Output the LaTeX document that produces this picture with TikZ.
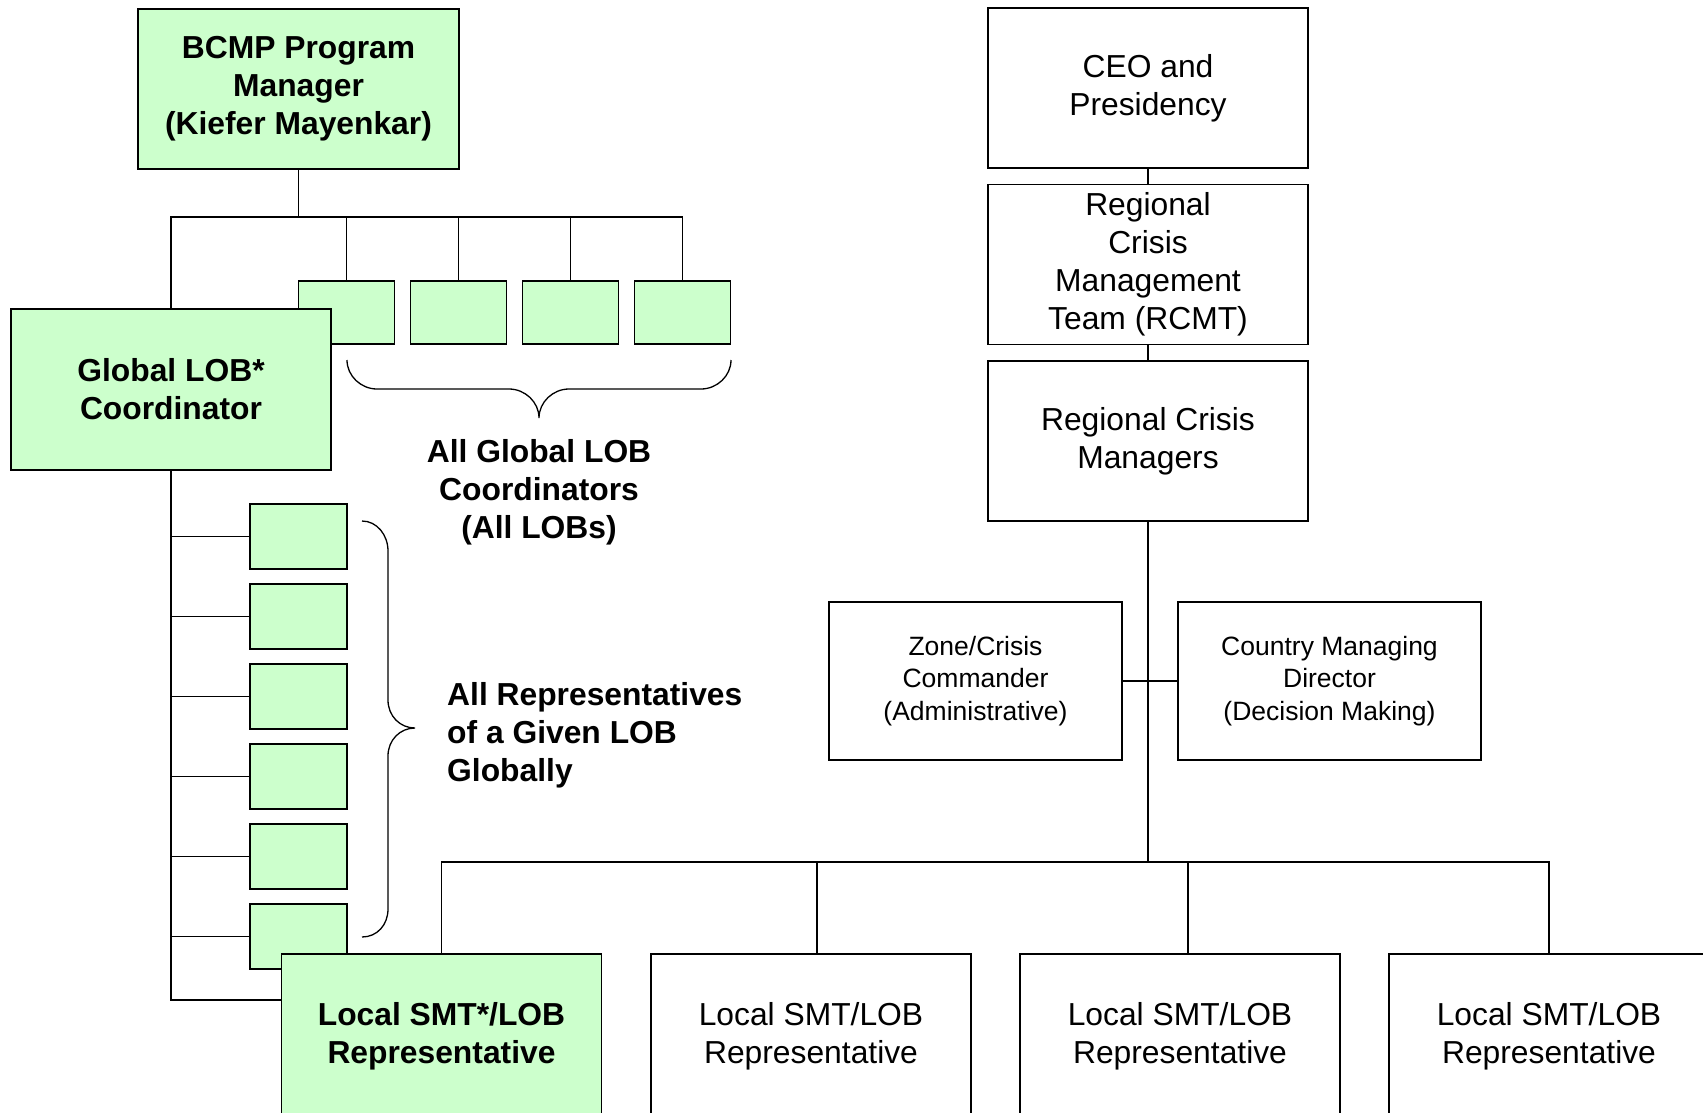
\documentclass[tikz,border=0pt]{standalone}
\usepackage{fontspec}
\setmainfont{Liberation Sans}
\usepackage{tikz}
\usetikzlibrary{positioning}
\definecolor{cG}{HTML}{CCFFCC}
\tikzset{
  gbox/.style={draw,line width=1.6pt,fill=cG,inner sep=0pt,align=center,
               font=\bfseries\fontsize{31.8}{38}\selectfont},
  wbox/.style={draw,line width=1.6pt,fill=white,inner sep=0pt,align=center,
               font=\fontsize{31.8}{38}\selectfont},
  sbox/.style={draw,line width=1.6pt,fill=cG,inner sep=0pt},
  link/.style={line width=1.6pt},
  curly/.style={line width=1.3pt},
  note/.style={inner sep=0pt,font=\bfseries\fontsize{31.8}{38}\selectfont},
}

\begin{document}
\begin{tikzpicture}[x=1pt,y=-1pt]
  \useasboundingbox (0,0) rectangle (1703,1112);
  \clip (0,0) rectangle (1703,1112);
  \node[gbox,minimum width=321pt,minimum height=160pt](bcmp) at (298.5,89)
    {BCMP Program\\Manager\\(Kiefer Mayenkar)};
  \foreach \i/\x in {1/346.5,2/458.5,3/570.5,4/682.5}
    \node[sbox,minimum width=96pt,minimum height=63pt](tb\i) at (\x,312.5){};
  \node[gbox,minimum width=320pt,minimum height=161pt](glob) at (171,389.5)
    {Global LOB*\\Coordinator};
  \foreach \i in {1,...,6}
    \node[sbox,minimum width=97pt,minimum height=65pt](lb\i) at (298.5,456.5+80*\i){};
  \node[note,align=center](gnote) at (539,492){All Global LOB\\Coordinators\\(All LOBs)};
  \node[note,align=left,anchor=west](rnote) at (447,735)
    {All Representatives\\of a Given LOB\\Globally};
  \node[wbox,minimum width=320pt,minimum height=160pt](ceo) at (1148,88){CEO and\\Presidency};
  \node[wbox,minimum width=320pt,minimum height=160pt,below=15pt of ceo](rcmt)
    {Regional\\Crisis\\Management\\Team (RCMT)};
  \node[wbox,minimum width=320pt,minimum height=160pt,below=15pt of rcmt](rcm)
    {Regional Crisis\\Managers};
  \node[wbox,font=\fontsize{26.5}{32.5}\selectfont,minimum width=293pt,minimum height=158pt]
    (zone) at (975.5,681){Zone/Crisis\\Commander\\(Administrative)};
  \node[wbox,font=\fontsize{26.5}{32.5}\selectfont,minimum width=303pt,minimum height=158pt]
    (cmd) at (1329.5,681){Country Managing\\Director\\(Decision Making)};
  \node[gbox,minimum width=320pt,minimum height=164pt](loc1) at (441.5,1036)
    {Local SMT*/LOB\\Representative};
  \foreach \i/\x in {2/811,3/1180,4/1549}
    \node[wbox,minimum width=320pt,minimum height=164pt](loc\i) at (\x,1036)
      {Local SMT/LOB\\Representative};
  % connectors
  \coordinate (tbus) at (0,217);
  \coordinate (lbus) at (0,862);
  \draw[link] (bcmp.south) -- (bcmp.south |- tbus);
  \draw[link] (glob.north) -- (glob.north |- tbus) -| (tb4.north);
  \foreach \i in {1,2,3} \draw[link] (tb\i.north) -- (tb\i.north |- tbus);
  \draw[link] (glob.south) |- ([yshift=36pt]loc1.west);
  \foreach \i in {1,...,6} \draw[link] (glob.south |- lb\i.west) -- (lb\i.west);
  \draw[link] (ceo) -- (rcmt);
  \draw[link] (rcmt) -- (rcm);
  \draw[link] (rcm.south) -- (rcm.south |- lbus);
  \draw[link] (zone.east) -- (cmd.west);
  \draw[link] (loc1.north) -- (loc1.north |- lbus) -| (loc4.north);
  \foreach \i/\s in {2/6pt,3/8pt}
    \draw[link] ([xshift=\s]loc\i.north) -- ([xshift=\s]loc\i.north |- lbus);
  % braces
  \draw[curly] (347,360) .. controls (347,376) and (361,389) .. (377,389) -- (509,389)
    .. controls (525,389) and (539,402) .. (539,418)
    .. controls (539,402) and (553,389) .. (569,389) -- (701,389)
    .. controls (717,389) and (731,376) .. (731,360);
  \draw[curly] (362,521) .. controls (377,521) and (388,535) .. (388,551) -- (388,700)
    .. controls (388,716) and (400,728) .. (415,728)
    .. controls (400,728) and (388,740) .. (388,756) -- (388,909)
    .. controls (388,925) and (377,937) .. (362,937);
\end{tikzpicture}
\end{document}
